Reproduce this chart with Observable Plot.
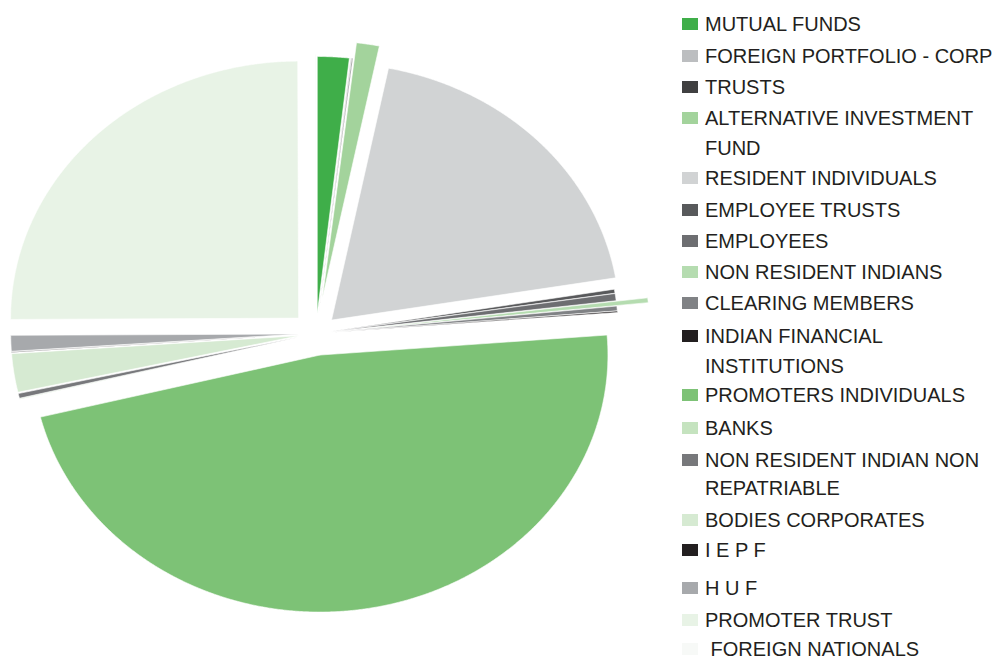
<!DOCTYPE html>
<html>
<head>
<meta charset="utf-8">
<script src="https://cdn.jsdelivr.net/npm/d3@7"></script>
<script src="https://cdn.jsdelivr.net/npm/@observablehq/plot@0.6"></script>
<style>
  html, body { margin: 0; padding: 0; background: #fff; }
  #wrap { position: relative; width: 996px; height: 659px; overflow: hidden; }
  #chart { position: absolute; left: 0; top: 0; }
  .row { position: absolute; left: 682px; height: 18px; line-height: 18px;
         font-family: "Liberation Sans", Arial, sans-serif; font-size: 20px; color: #231f20; white-space: pre; }
  .sw { position: absolute; left: 0; top: 3px; width: 16px; height: 12px; }
  .lbl { position: absolute; left: 23px; top: 0; white-space: pre; }
</style>
</head>
<body>
<div id="wrap"><div id="chart"></div><div id="legend"></div></div>
<script>
// Categories in clockwise order starting at 12 o'clock
const categories = [
  "MUTUAL FUNDS", "FOREIGN PORTFOLIO - CORP", "TRUSTS", "ALTERNATIVE INVESTMENT FUND",
  "RESIDENT INDIVIDUALS", "EMPLOYEE TRUSTS", "EMPLOYEES", "NON RESIDENT INDIANS",
  "CLEARING MEMBERS", "INDIAN FINANCIAL INSTITUTIONS", "PROMOTERS INDIVIDUALS", "BANKS",
  "NON RESIDENT INDIAN NON REPATRIABLE", "BODIES CORPORATES", "I E P F", "H U F",
  "PROMOTER TRUST", "FOREIGN NATIONALS"
];
// Shareholding, percent
const shares = [1.78, 0.06, 0.05, 1.28, 19.2, 0.25, 0.45, 0.30, 0.30, 0.09, 47.36, 0.05, 0.30, 2.42, 0.04, 0.99, 25.03, 0.05];
// Legend text lines (wrapping as in the reference)
const legendLines = [
  ["MUTUAL FUNDS"], ["FOREIGN PORTFOLIO - CORP"], ["TRUSTS"], ["ALTERNATIVE INVESTMENT", "FUND"],
  ["RESIDENT INDIVIDUALS"], ["EMPLOYEE TRUSTS"], ["EMPLOYEES"], ["NON RESIDENT INDIANS"],
  ["CLEARING MEMBERS"], ["INDIAN FINANCIAL", "INSTITUTIONS"], ["PROMOTERS INDIVIDUALS"], ["BANKS"],
  ["NON RESIDENT INDIAN NON", "REPATRIABLE"], ["BODIES CORPORATES"], ["I E P F"], ["H U F"],
  ["PROMOTER TRUST"], [" FOREIGN NATIONALS"]
];

// Styling / layout
const colors = ["#3fae49", "#bcbec0", "#404041", "#a3d39c", "#d1d3d4", "#58595b", "#6d6e71", "#b5dcb0",
  "#808285", "#231f20", "#7dc276", "#c5e3bf", "#77787b", "#d6ead2", "#231f20", "#a7a9ac", "#e8f3e6", "#f7f9f7"];
const explode = [0.078, 0.078, 0.078, 0.14, 0.075, 0.05, 0.05, 0.16, 0.05, 0.05, 0.085, 0.06, 0.06, 0.06, 0.06, 0.06, 0.085, 0.085];
const rowCenters = [24, 56, 87, 118, 148, 178, 210, 241, 272, 303, 336, 366, 395, 428, 460, 488, 520, 550, 588, 620, 649];

const total = d3.sum(shares);
const pts = [];
let acc = 0;
categories.forEach((name, i) => {
  const a0 = acc / total * 2 * Math.PI;
  acc += shares[i];
  const a1 = acc / total * 2 * Math.PI;
  const mid = (a0 + a1) / 2;
  const ox = explode[i] * Math.sin(mid), oy = explode[i] * Math.cos(mid);
  pts.push({name, x: ox, y: oy});
  const n = Math.max(2, Math.ceil((a1 - a0) / (Math.PI / 720)));
  for (let k = 0; k <= n; k++) {
    const a = a0 + (a1 - a0) * k / n;
    pts.push({name, x: ox + Math.sin(a), y: oy + Math.cos(a)});
  }
  pts.push({name, x: ox, y: oy});
});

const chart = Plot.plot({
  width: 996, height: 659,
  marginLeft: 0, marginRight: 0, marginTop: 0, marginBottom: 0,
  x: {domain: [-1, 1], range: [27.5, 603.5], axis: null},
  y: {domain: [-1, 1], range: [590, 76], axis: null},
  color: {domain: categories, range: colors, legend: false},
  marks: [
    Plot.line(pts, {x: "x", y: "y", z: "name", fill: "name", stroke: "white", strokeWidth: 0.6, curve: "linear"})
  ]
});
document.getElementById("chart").appendChild(chart);

// Legend
const leg = document.getElementById("legend");
let row = 0;
legendLines.forEach((lines, i) => {
  lines.forEach((t, j) => {
    const c = rowCenters[row];
    const div = document.createElement("div");
    div.className = "row";
    div.style.top = (c - 9) + "px";
    if (j === 0) {
      const sw = document.createElement("div");
      sw.className = "sw";
      sw.style.background = colors[i];
      div.appendChild(sw);
    }
    const lb = document.createElement("div");
    lb.className = "lbl";
    lb.textContent = t;
    div.appendChild(lb);
    leg.appendChild(div);
    row++;
  });
});
</script>
</body>
</html>
